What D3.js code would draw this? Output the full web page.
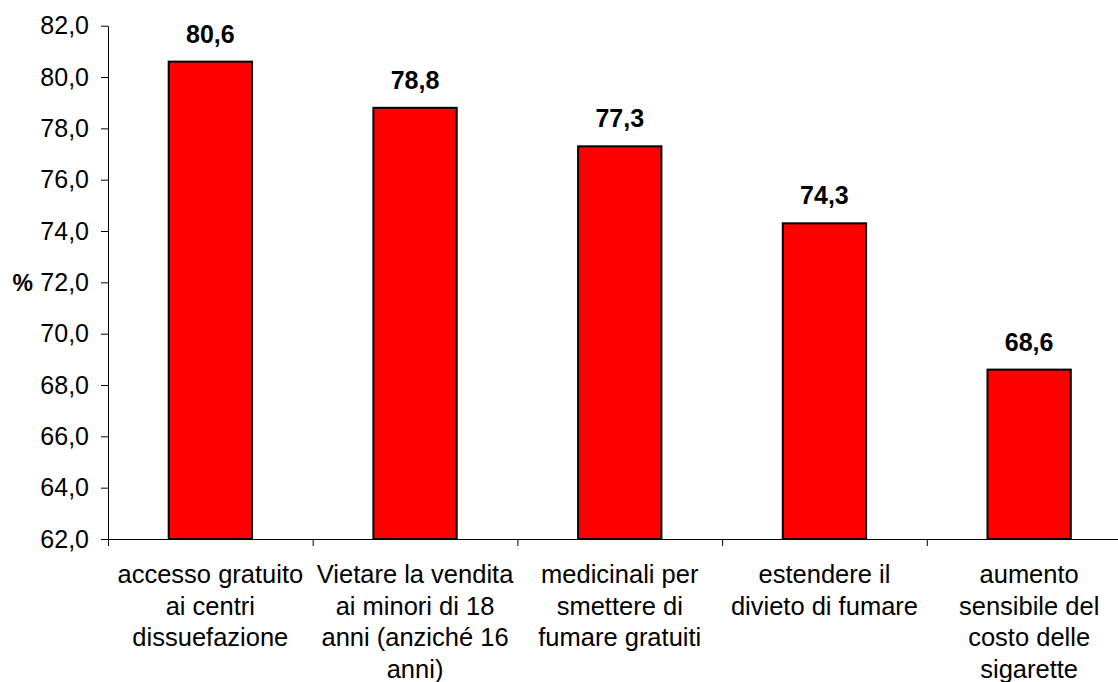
<!DOCTYPE html>
<html>
<head>
<meta charset="utf-8">
<script src="https://cdn.jsdelivr.net/npm/d3@7"></script>
<style>
  html, body { margin: 0; padding: 0; background: #fff; }
  svg { display: block; font-family: "Liberation Sans", Arial, sans-serif; }
</style>
</head>
<body>
<svg id="chart" width="1118" height="682"></svg>
<script>
// Category labels (line breaks as drawn under the axis)
const categories = [
  "accesso gratuito\nai centri\ndissuefazione",
  "Vietare la vendita\nai minori di 18\nanni (anziché 16\nanni)",
  "medicinali per\nsmettere di\nfumare gratuiti",
  "estendere il\ndivieto di fumare",
  "aumento\nsensibile del\ncosto delle\nsigarette"
];
// Percentage of respondents in favour of each measure
const values = [80.6, 78.8, 77.3, 74.3, 68.6];
// Y axis ticks
const yTicks = [62, 64, 66, 68, 70, 72, 74, 76, 78, 80, 82];

const svg = d3.select("#chart");
const plotLeft = 108, plotTop = 25.7, plotBottom = 539, step = 204.7;
const plotRight = plotLeft + step * categories.length;

const x = d3.scaleBand().domain(d3.range(categories.length)).range([plotLeft, plotRight]).padding(0);
const y = d3.scaleLinear().domain([62, 82]).range([plotBottom, plotTop]);
const fmt = v => d3.format(".1f")(v).replace(".", ",");

const barW = x.bandwidth() * 0.407;

// Bars
svg.append("g").selectAll("rect").data(values).join("rect")
  .attr("x", (d, i) => x(i) + x.bandwidth() / 2 - barW / 2)
  .attr("y", d => y(d))
  .attr("width", barW)
  .attr("height", d => plotBottom - y(d))
  .attr("fill", "#ff0000")
  .attr("stroke", "#000")
  .attr("stroke-width", 2);

// Value labels
svg.append("g").selectAll("text").data(values).join("text")
  .attr("x", (d, i) => x(i) + x.bandwidth() / 2)
  .attr("y", d => y(d) - 19)
  .attr("text-anchor", "middle")
  .attr("font-size", 25)
  .attr("font-weight", "bold")
  .attr("fill", "#000")
  .text(fmt);

// Y axis
const yAxis = svg.append("g")
  .attr("transform", `translate(${plotLeft},0)`)
  .call(d3.axisLeft(y).tickValues(yTicks).tickFormat(fmt).tickSize(7).tickPadding(12).tickSizeOuter(0));
yAxis.select(".domain").attr("stroke", "#000");
yAxis.selectAll(".tick line").attr("stroke", "#000");
yAxis.selectAll(".tick text")
  .attr("font-size", 25)
  .attr("font-family", "Liberation Sans, Arial, sans-serif")
  .attr("fill", "#000");

// X axis
const xAxis = svg.append("g")
  .attr("transform", `translate(0,${plotBottom})`)
  .call(d3.axisBottom(d3.scaleLinear().domain([0, categories.length]).range([plotLeft, plotRight]))
    .tickValues(d3.range(categories.length + 1)).tickSize(7).tickFormat("").tickSizeOuter(0));
xAxis.select(".domain").attr("stroke", "#000");
xAxis.selectAll(".tick line").attr("stroke", "#000");

// Category labels
const catG = svg.append("g").selectAll("text").data(categories).join("text")
  .attr("text-anchor", "middle")
  .attr("font-size", 25.5)
  .attr("fill", "#000");
catG.each(function(d, i) {
  const t = d3.select(this);
  d.split("\n").forEach((line, k) => {
    t.append("tspan")
      .attr("x", x(i) + x.bandwidth() / 2)
      .attr("y", 583 + k * 31.7)
      .text(line);
  });
});

// Y axis title
svg.append("text")
  .attr("x", 33)
  .attr("y", y(72) + 8.5)
  .attr("text-anchor", "end")
  .attr("font-size", 23)
  .attr("font-weight", "bold")
  .attr("fill", "#000")
  .text("%");
</script>
</body>
</html>
